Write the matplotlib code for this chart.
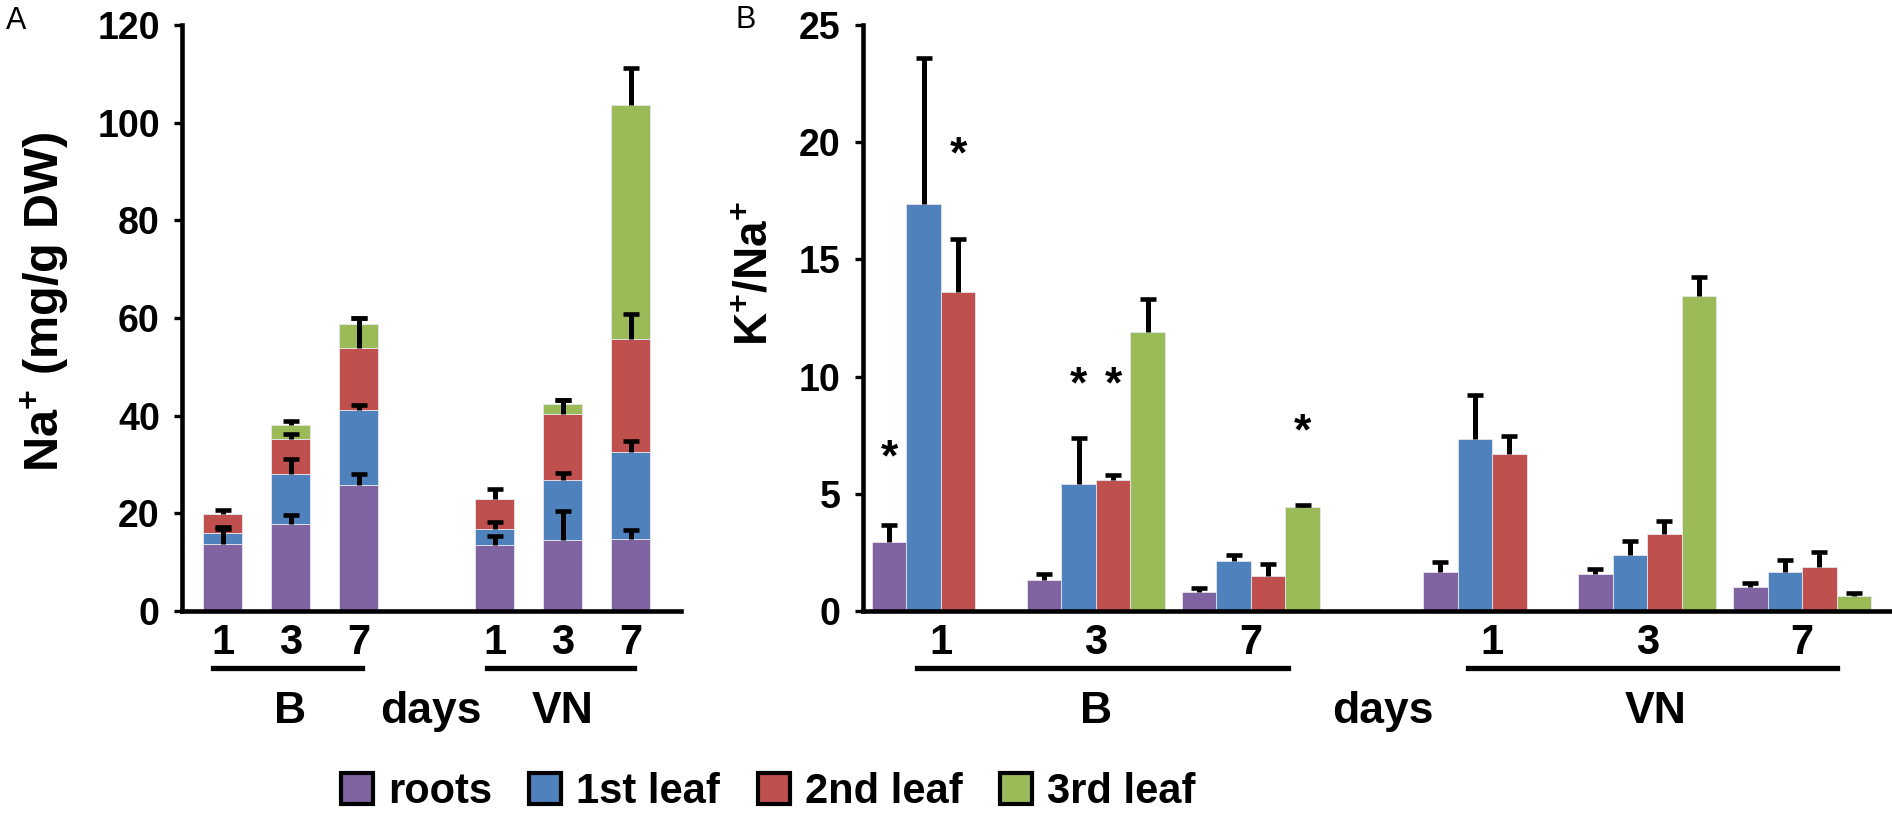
import numpy as np
import matplotlib
matplotlib.use("Agg")
import matplotlib.pyplot as plt
import matplotlib.transforms as mtransforms
from matplotlib.patches import Patch
from matplotlib.lines import Line2D

plt.rcParams["font.family"] = ["Liberation Sans", "DejaVu Sans"]
plt.rcParams["font.weight"] = "bold"
plt.rcParams["mathtext.fontset"] = "custom"
plt.rcParams["mathtext.rm"] = "Liberation Sans:bold"
plt.rcParams["mathtext.bf"] = "Liberation Sans:bold"
plt.rcParams["mathtext.default"] = "bf"

# Data
tissues = ["roots", "1st leaf", "2nd leaf", "3rd leaf"]
colors = ["#8064A2", "#4F81BD", "#C0504D", "#9BBB59"]
days = ["1", "3", "7"]
cultivars = ["B", "VN"]

# A: Na+ content per tissue, stacked (B1, B3, B7, VN1, VN3, VN7)
na_roots = [13.7, 17.9, 25.7, 13.5, 14.5, 14.8]
na_leaf1 = [2.2, 10.1, 15.5, 3.3, 12.3, 17.7]
na_leaf2 = [3.9, 7.2, 12.6, 6.2, 13.5, 23.3]
na_leaf3 = [np.nan, 2.8, 5.0, np.nan, 2.0, 47.9]
na_roots_err = [3.0, 1.8, 2.4, 1.9, 6.0, 1.8]
na_leaf1_err = [1.2, 3.1, 1.0, 1.5, 1.5, 2.4]
na_leaf2_err = [0.9, 1.0, 6.2, 1.9, 2.9, 5.1]
na_leaf3_err = [np.nan, 1.0, 1.2, np.nan, 0.9, 7.5]

# B: K+/Na+ ratio per tissue (B1, B3, B7, VN1, VN3, VN7)
kna_roots = [2.94, 1.34, 0.81, 1.68, 1.59, 1.01]
kna_leaf1 = [17.37, 5.40, 2.15, 7.33, 2.40, 1.68]
kna_leaf2 = [13.59, 5.57, 1.51, 6.71, 3.27, 1.88]
kna_leaf3 = [np.nan, 11.91, 4.45, np.nan, 13.42, 0.64]
kna_roots_err = [0.72, 0.22, 0.15, 0.42, 0.22, 0.20]
kna_leaf1_err = [6.23, 1.98, 0.23, 1.90, 0.59, 0.50]
kna_leaf2_err = [2.27, 0.22, 0.50, 0.76, 0.59, 0.64]
kna_leaf3_err = [np.nan, 1.38, 0.08, np.nan, 0.84, 0.12]

# significance stars: (group, tissue, height)
stars_b = [(0, 0, 6.5), (0, 2, 19.4), (1, 1, 9.6), (1, 2, 9.6), (2, 3, 7.6)]

W, H = 1892, 814
fig = plt.figure(figsize=(W / 100, H / 100), dpi=100)
axA = fig.add_axes([182 / W, 1 - 611 / H, (681 - 182) / W, (611 - 25) / H])
axB = fig.add_axes([863 / W, 1 - 611 / H, (1890 - 863) / W, (611 - 25) / H])

err_kw = dict(fmt="none", ecolor="black", elinewidth=3.6, capsize=5.5, capthick=3.3, zorder=4)


def up_errorbar(ax, x, top, err):
    # only the upper half of the bar, with one cap at the end
    eb = ax.errorbar(x, top, yerr=[np.zeros(len(x)), err], **err_kw)
    for cl in eb[1]:
        if np.allclose(cl.get_ydata(), top):
            cl.set_visible(False)


def style_axis(ax):
    for s in ["top", "right"]:
        ax.spines[s].set_visible(False)
    for s in ["left", "bottom"]:
        ax.spines[s].set_linewidth(3.3)
    ax.tick_params(axis="y", direction="out", length=6, width=2.4, labelsize=27, pad=10)
    ax.tick_params(axis="x", length=0, labelsize=30, pad=9)


# ---- panel A
xa = np.concatenate([np.arange(3), np.arange(3) + 4]).astype(float)
na_vals = [na_roots, na_leaf1, na_leaf2, na_leaf3]
na_errs = [na_roots_err, na_leaf1_err, na_leaf2_err, na_leaf3_err]
bottom = np.zeros(6)
for vals, errs, c in zip(na_vals, na_errs, colors):
    v = np.array(vals, dtype=float)
    e = np.array(errs, dtype=float)
    h = np.nan_to_num(v)
    axA.bar(xa, h, 0.574, bottom=bottom, color=c, edgecolor="#e6e6ee", linewidth=0.6, zorder=2)
    top = bottom + h
    m = ~np.isnan(v)
    up_errorbar(axA, xa[m], top[m], e[m])
    bottom = top

axA.set_ylim(0, 120)
axA.set_yticks(np.arange(0, 121, 20))
axA.set_xlim(-0.596, 6.74)
axA.set_xticks(xa, days * 2)
style_axis(axA)

# ---- panel B
group_start = np.array([0, 4.5, 9, 16, 20.5, 25])
kna_vals = [kna_roots, kna_leaf1, kna_leaf2, kna_leaf3]
kna_errs = [kna_roots_err, kna_leaf1_err, kna_leaf2_err, kna_leaf3_err]
for i, (vals, errs, c) in enumerate(zip(kna_vals, kna_errs, colors)):
    v = np.array(vals, dtype=float)
    e = np.array(errs, dtype=float)
    m = ~np.isnan(v)
    x = group_start + i + 0.5
    axB.bar(x[m], v[m], 1.0, color=c, edgecolor="#e6e6ee", linewidth=0.6, zorder=2)
    up_errorbar(axB, x[m], v[m], e[m])

for g, t, y in stars_b:
    axB.text(group_start[g] + t + 0.5, y, "*", ha="center", va="center", fontsize=32, zorder=5)

axB.set_ylim(0, 25)
axB.set_yticks(np.arange(0, 26, 5))
axB.set_xlim(-0.26, 29.55)
axB.set_xticks(group_start + 2, days * 2)
style_axis(axB)

# ---- group underlines and labels below axes
y_line = 1 - 668 / H
y_lab = 1 - 723 / H
for ax, lines, labels in [
    (axA, [(-0.14, 2.05), (3.89, 6.05)], [(1.0, "B"), (3.07, "days"), (5.0, "VN")]),
    (axB, [(1.31, 12.07), (17.3, 28.0)], [(6.5, "B"), (14.84, "days"), (22.75, "VN")]),
]:
    tr = mtransforms.blended_transform_factory(ax.transData, fig.transFigure)
    for x0, x1 in lines:
        fig.add_artist(Line2D([x0, x1], [y_line, y_line], transform=tr, color="black", lw=3.8))
    for x, s in labels:
        fig.text(x, y_lab, s, transform=tr, ha="center", va="baseline", fontsize=32)

# axis titles and panel letters
fig.text(45 / W, 1 - 302 / H, r"Na$^{+}$ (mg/g DW)", rotation=90, ha="center", va="center", fontsize=35)
fig.text(756 / W, 1 - 274 / H, r"K$^{+}$/Na$^{+}$", rotation=90, ha="center", va="center", fontsize=33)
fig.text(16 / W, 1 - 21 / H, "A", ha="center", va="center", fontsize=22, fontweight="normal")
fig.text(746 / W, 1 - 20 / H, "B", ha="center", va="center", fontsize=22, fontweight="normal")

# legend
handles = [Patch(facecolor=c, edgecolor="black", linewidth=3.0) for c in colors]
fig.legend(handles, tissues, loc="center", bbox_to_anchor=(768 / W, 1 - 792 / H), ncol=4,
           frameon=False, fontsize=30, handlelength=0.77, handleheight=0.77,
           handletextpad=0.36, columnspacing=0.9, borderpad=0)

fig.savefig("out.png", dpi=100)
